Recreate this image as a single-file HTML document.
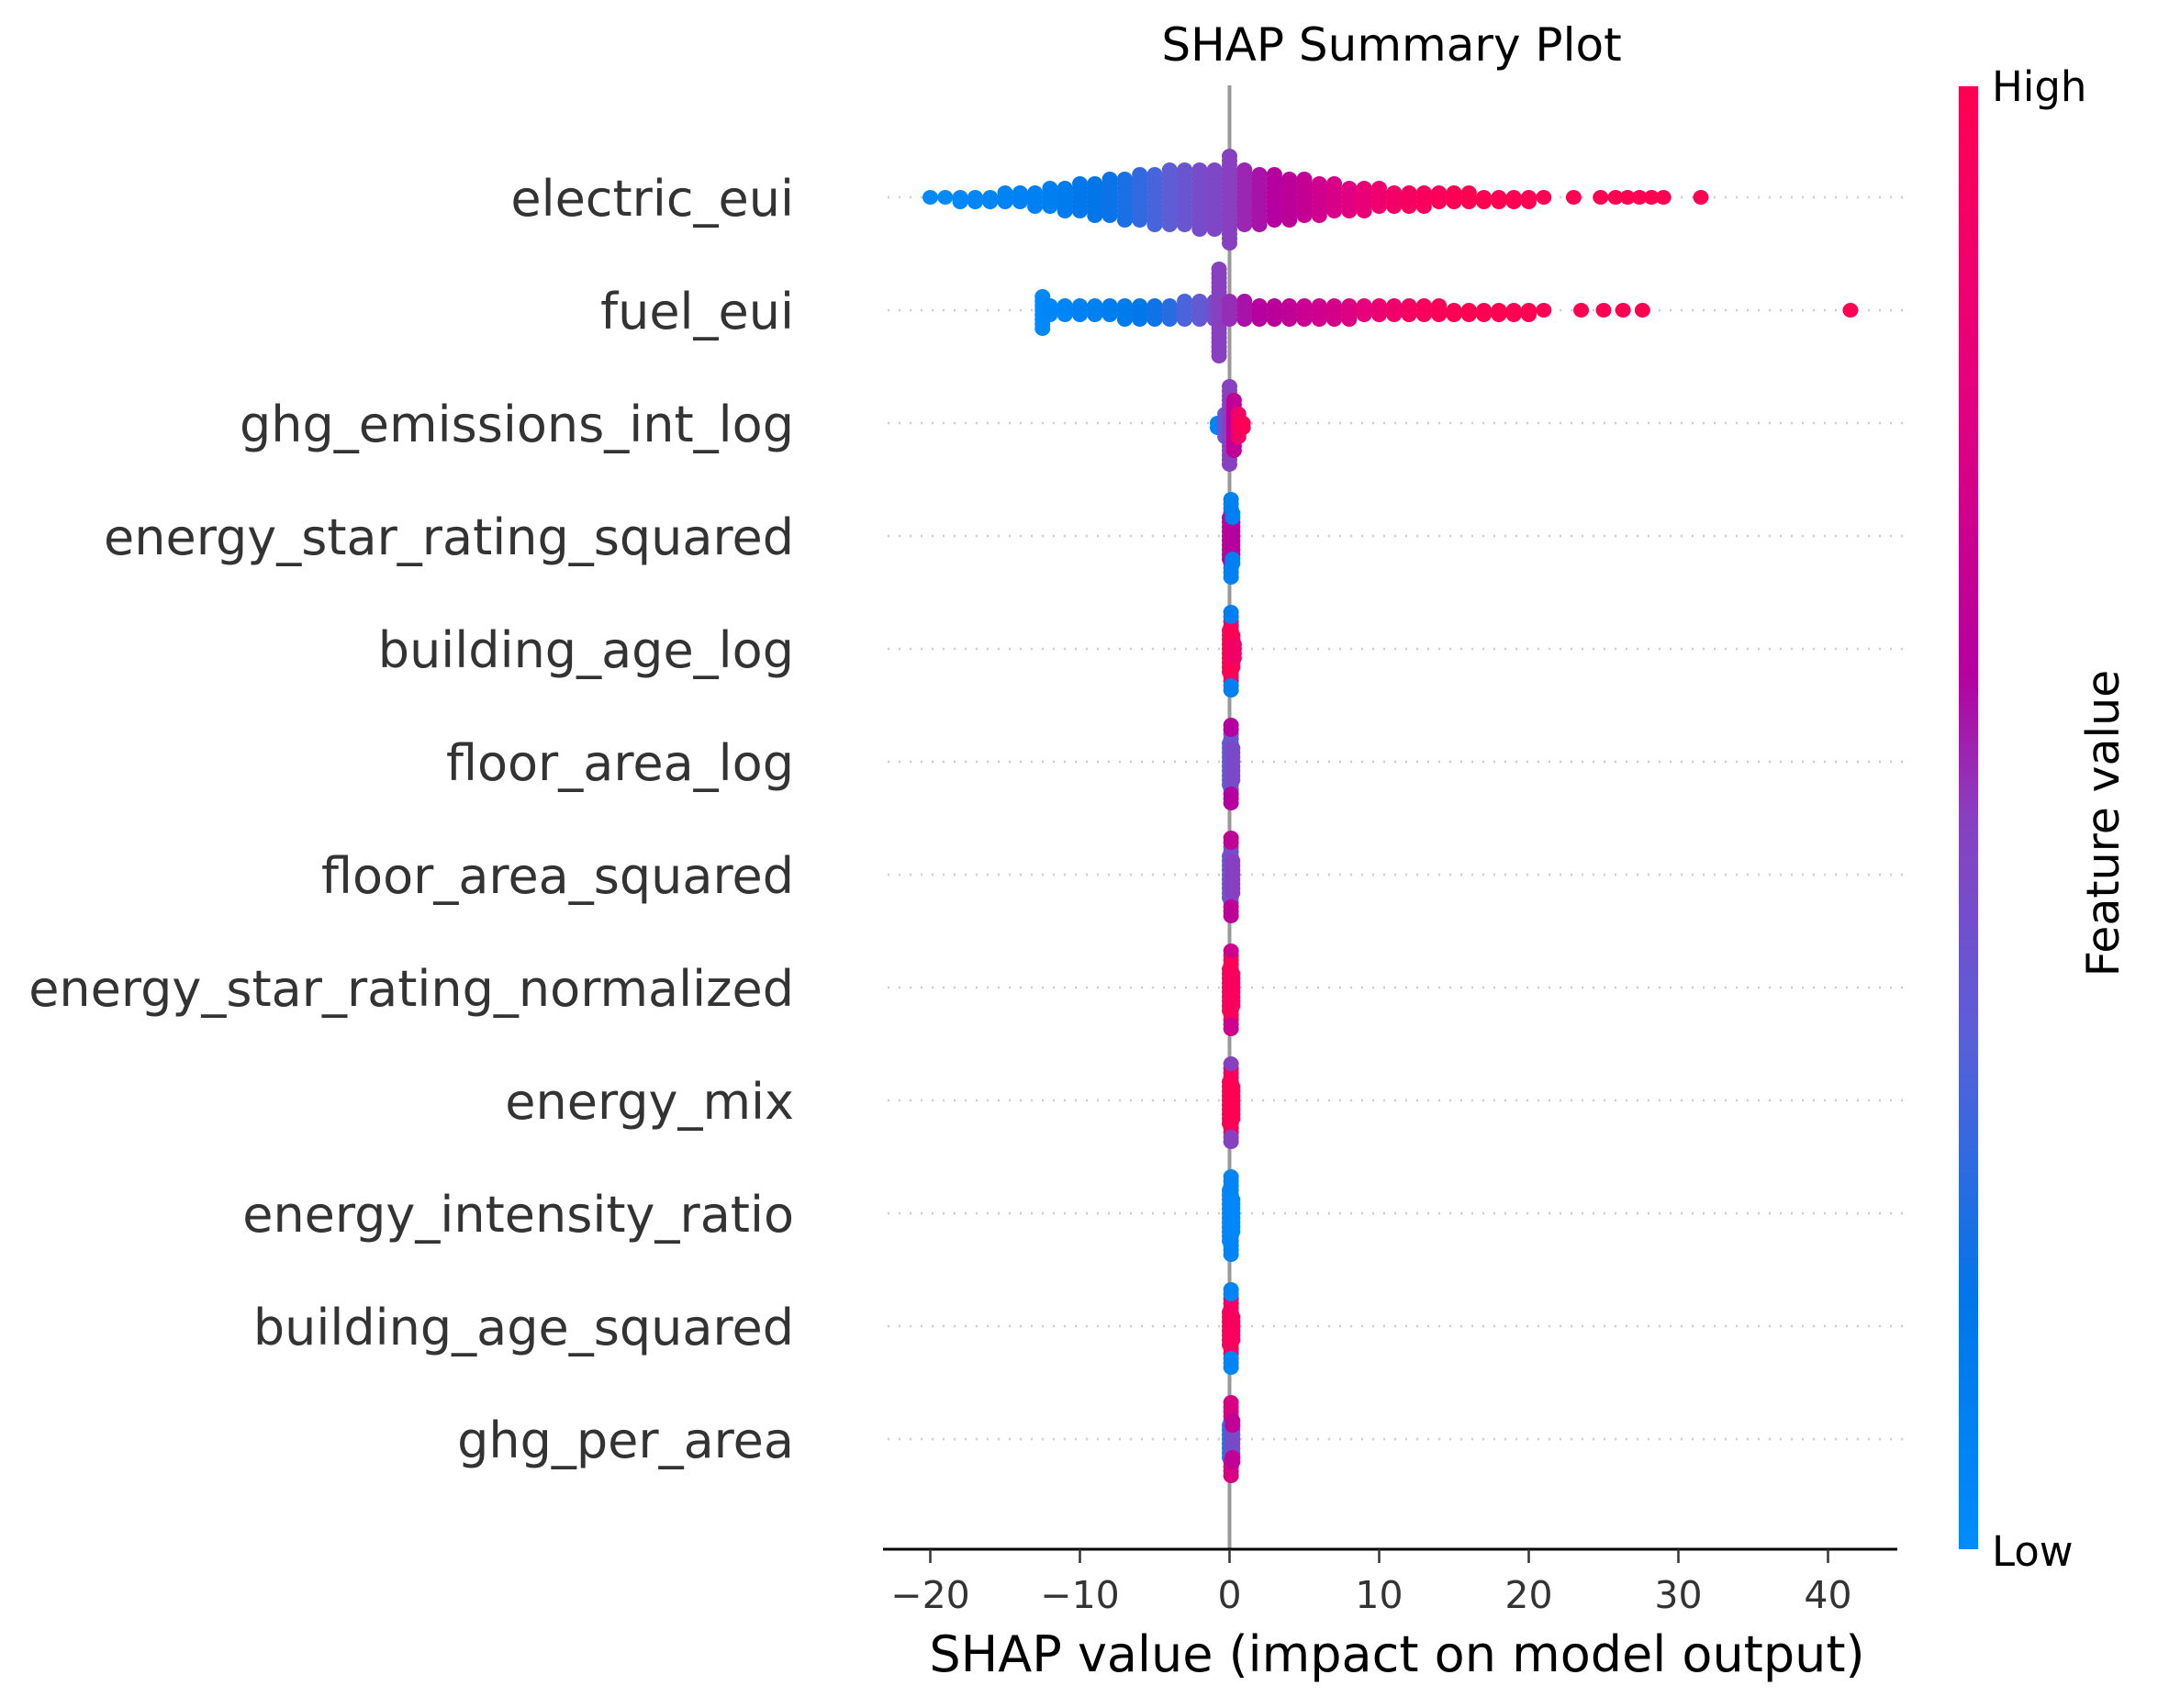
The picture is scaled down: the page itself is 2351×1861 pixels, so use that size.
<!DOCTYPE html>
<html><head><meta charset="utf-8"><style>
html,body{margin:0;padding:0;background:#fff;}
svg{display:block;font-family:"DejaVu Sans","Liberation Sans",sans-serif;}
</style></head><body>
<svg id="chart" width="2351" height="1861" viewBox="0 0 2351 1861" xmlns="http://www.w3.org/2000/svg">
<defs>
<linearGradient id="cbar" x1="0" y1="1" x2="0" y2="0">
<stop offset="0" stop-color="#008bfb"/><stop offset="0.17" stop-color="#0076e9"/><stop offset="0.35" stop-color="#5a5fd8"/><stop offset="0.5" stop-color="#8840c0"/><stop offset="0.6" stop-color="#b5009f"/><stop offset="0.8" stop-color="#e6007b"/><stop offset="1" stop-color="#ff0052"/>
</linearGradient>
</defs>
<text x="1516" y="66" font-size="50" text-anchor="middle" fill="#000">SHAP Summary Plot</text>
<g id="grid"></g>
<line x1="1339.5" y1="93" x2="1339.5" y2="1688" stroke="#999" stroke-width="4"/>
<g id="dots"></g>
<g id="labels"></g>
<line x1="962" y1="1688" x2="2067" y2="1688" stroke="#000" stroke-width="3"/>
<g id="xticks"></g>
<text x="1522" y="1821" font-size="54" text-anchor="middle" fill="#000">SHAP value (impact on model output)</text>
<rect x="2134" y="94" width="21" height="1594" fill="url(#cbar)"/>
<text x="2170" y="110" font-size="45" fill="#000">High</text>
<text x="2170" y="1706" font-size="45" fill="#000">Low</text>
<text x="2308" y="897" font-size="49" text-anchor="middle" fill="#000" transform="rotate(-90 2308 897)">Feature value</text>
</svg>
<script>
const features = ["electric_eui","fuel_eui","ghg_emissions_int_log","energy_star_rating_squared","building_age_log","floor_area_log","floor_area_squared","energy_star_rating_normalized","energy_mix","energy_intensity_ratio","building_age_squared","ghg_per_area"];
const xTicks = [-20,-10,0,10,20,30,40];
// per feature: SHAP values (bin centres), dot counts, feature values (0=low,1=high)
const electricShap = [-20,-19,-18,-17,-16,-15,-14,-13,-12,-11,-10,-9,-8,-7,-6,-5,-4,-3,-2,-1,0,1,2,3,4,5,6,7,8,9,10,11,12,13,14,15,16,17,18,19,20,21,23,24.8,25.8,26.6,27.4,28.2,29,31.5];
const electricCount = [1,1,2,2,2,3,3,4,5,6,7,8,9,10,11,12,13,13,14,14,20,13,12,11,10,9,8,7,6,6,5,4,4,4,3,3,3,2,2,2,2,1,1,1,1,1,1,1,1,1];
const electricFeat = [0.02,0.02,0.03,0.04,0.05,0.06,0.07,0.08,0.1,0.12,0.15,0.17,0.19,0.22,0.27,0.31,0.36,0.4,0.44,0.47,0.5,0.54,0.57,0.6,0.63,0.66,0.7,0.74,0.78,0.82,0.86,0.9,0.93,0.95,0.97,0.98,1,1,1,1,1,1,1,1,1,1,1,1,1,1];
const fuelShap = [-12.5,-12,-11,-10,-9,-8,-7,-6,-5,-4,-3,-2,-1,-0.7,0,1,2,3,4,5,6,7,8,9,10,11,12,13,14,15,16,17,18,19,20,21,23.5,25,26.3,27.6,41.5];
const fuelCount = [8,3,3,3,3,3,4,4,4,4,5,5,5,20,5,5,4,4,4,4,4,4,4,3,3,3,3,3,3,2,2,2,2,2,2,1,1,1,1,1,1];
const fuelFeat = [0.02,0.04,0.05,0.07,0.09,0.11,0.13,0.16,0.2,0.25,0.32,0.38,0.44,0.5,0.53,0.57,0.6,0.62,0.65,0.68,0.7,0.73,0.76,0.8,0.85,0.88,0.92,0.95,0.97,1,1,1,1,1,1,1,1,1,1,1,1];
const ghgLogShap = [-0.8,-0.3,0,0.3,0.6,0.9];
const ghgLogCount = [2,6,18,12,6,2];
const ghgLogFeat = [0.05,0.4,0.5,0.65,0.9,1];
const starSqShap = [0,0.1,0.2,0.1,0.2];
const starSqCount = [10,12,8,6,4];
const starSqFeat = [0.62,0.65,0.6,0.08,0.1];
const ageLogShap = [0,0.1,0.2,0.3,0.1];
const ageLogCount = [10,14,8,4,4];
const ageLogFeat = [1,0.95,1,0.9,0.1];
const areaLogShap = [0,0.1,0.2,0.1];
const areaLogCount = [10,13,8,5];
const areaLogFeat = [0.35,0.4,0.45,0.6];
const areaSqShap = [0,0.1,0.2,0.1];
const areaSqCount = [10,13,8,5];
const areaSqFeat = [0.38,0.42,0.5,0.65];
const starNormShap = [0,0.1,0.2,0.1];
const starNormCount = [10,15,8,3];
const starNormFeat = [0.92,1,0.95,0.7];
const mixShap = [0,0.1,0.2,0.1];
const mixCount = [10,15,8,3];
const mixFeat = [1,0.95,1,0.5];
const intensityShap = [0,0.1,0.2];
const intensityCount = [12,18,8];
const intensityFeat = [0.02,0.05,0.03];
const ageSqShap = [0,0.1,0.2,0.1];
const ageSqCount = [8,13,6,5];
const ageSqFeat = [1,0.92,0.95,0.05];
const ghgAreaShap = [0,0.1,0.2,0.1,0.2];
const ghgAreaCount = [8,9,6,8,4];
const ghgAreaFeat = [0.08,0.3,0.45,0.75,0.65];

const rows = [
 [electricShap,electricCount,electricFeat],[fuelShap,fuelCount,fuelFeat],[ghgLogShap,ghgLogCount,ghgLogFeat],
 [starSqShap,starSqCount,starSqFeat],[ageLogShap,ageLogCount,ageLogFeat],[areaLogShap,areaLogCount,areaLogFeat],
 [areaSqShap,areaSqCount,areaSqFeat],[starNormShap,starNormCount,starNormFeat],[mixShap,mixCount,mixFeat],
 [intensityShap,intensityCount,intensityFeat],[ageSqShap,ageSqCount,ageSqFeat],[ghgAreaShap,ghgAreaCount,ghgAreaFeat]];

const NS = "http://www.w3.org/2000/svg";
const xScale = v => 1339.5 + v * 16.3;
const yScale = i => 215 + i * 123;
const stops = [[0,[0,139,251]],[0.17,[0,118,233]],[0.35,[90,95,216]],[0.5,[136,64,192]],[0.6,[181,0,159]],[0.8,[230,0,123]],[1,[255,0,82]]];
function color(t){
  for(let k=1;k<stops.length;k++){
    if(t<=stops[k][0]){
      const a=stops[k-1],b=stops[k],f=(t-a[0])/(b[0]-a[0]);
      return "rgb("+a[1].map((c,j)=>Math.round(c+(b[1][j]-c)*f)).join(",")+")";
    }
  }
  return "rgb(255,0,82)";
}
const grid=document.getElementById("grid"),dots=document.getElementById("dots"),labels=document.getElementById("labels"),xt=document.getElementById("xticks");
features.forEach((name,i)=>{
  const y=yScale(i);
  const g=document.createElementNS(NS,"line");
  g.setAttribute("x1",967);g.setAttribute("x2",2077);g.setAttribute("y1",y);g.setAttribute("y2",y);
  g.setAttribute("stroke","#ccc");g.setAttribute("stroke-width","2.5");g.setAttribute("stroke-dasharray","2 10");
  
  
  grid.appendChild(g);
  const t=document.createElementNS(NS,"text");
  t.setAttribute("x",865);t.setAttribute("y",y+20);t.setAttribute("text-anchor","end");
  t.setAttribute("font-size","54");t.setAttribute("fill","#333");t.textContent=name;
  
  
  labels.appendChild(t);
  const [vals,counts,feats]=rows[i];
  const layers={};
  vals.forEach((v,j)=>{
    const key=v.toFixed(2);
    for(let c=0;c<counts[j];c++){
      const n=layers[key]||0; layers[key]=n+1;
      const off=n===0?0:(n%2?1:-1)*Math.ceil(n/2)*5;
      const d=document.createElementNS(NS,"ellipse");
      d.setAttribute("cx",xScale(v));d.setAttribute("cy",y+off);d.setAttribute("rx",8.5);d.setAttribute("ry",8);
      d.setAttribute("fill",color(feats[j]));
      
      
      dots.appendChild(d);
    }
  });
});
xTicks.forEach(v=>{
  const x=xScale(v);
  const l=document.createElementNS(NS,"line");
  l.setAttribute("x1",x);l.setAttribute("x2",x);l.setAttribute("y1",1688);l.setAttribute("y2",1703);
  l.setAttribute("stroke","#333");l.setAttribute("stroke-width","2.5");
  
  
  xt.appendChild(l);
  const t=document.createElementNS(NS,"text");
  t.setAttribute("x",x);t.setAttribute("y",1752);t.setAttribute("text-anchor","middle");
  t.setAttribute("font-size","41");t.setAttribute("fill","#333");
  t.textContent=v<0?"\u2212"+Math.abs(v):String(v);
  
  
  xt.appendChild(t);
});
</script>
</body></html>
